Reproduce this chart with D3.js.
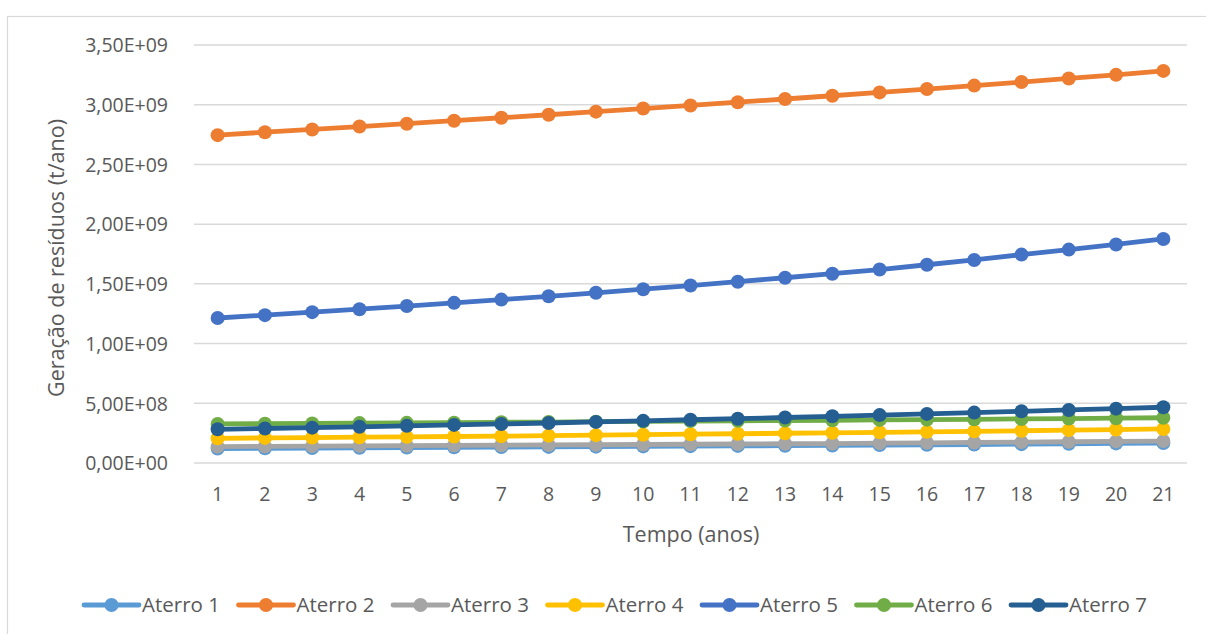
<!DOCTYPE html>
<html>
<head>
<meta charset="utf-8">
<script src="https://cdn.jsdelivr.net/npm/d3@7"></script>
<style>
  body { margin: 0; background: #fff; }
  text { font-family: "Open Sans", sans-serif; fill: #595959; }
</style>
</head>
<body>
<div id="chart"></div>
<script>
// anos no eixo x
const anos = d3.range(1, 22);
const yTicks = [0, 0.5e9, 1e9, 1.5e9, 2e9, 2.5e9, 3e9, 3.5e9];

// geração de resíduos (E+09 t/ano)
const aterro1 = [0.121,0.123,0.125,0.127,0.129,0.131,0.133,0.135,0.137,0.139,0.141,0.143,0.145,0.147,0.150,0.152,0.155,0.158,0.161,0.164,0.167];
const aterro2 = [2.745,2.770,2.793,2.817,2.841,2.866,2.891,2.916,2.942,2.968,2.994,3.021,3.048,3.075,3.103,3.131,3.160,3.190,3.220,3.250,3.283];
const aterro3 = [0.137,0.139,0.141,0.143,0.145,0.147,0.149,0.151,0.153,0.155,0.157,0.159,0.161,0.163,0.166,0.169,0.172,0.175,0.178,0.181,0.184];
const aterro4 = [0.207,0.210,0.213,0.216,0.219,0.222,0.225,0.229,0.233,0.237,0.241,0.245,0.249,0.253,0.257,0.261,0.265,0.270,0.275,0.280,0.285];
const aterro5 = [1.214,1.238,1.263,1.288,1.314,1.341,1.368,1.396,1.425,1.455,1.486,1.518,1.551,1.585,1.620,1.660,1.700,1.745,1.787,1.830,1.876];
const aterro6 = [0.327,0.329,0.331,0.334,0.336,0.338,0.341,0.343,0.346,0.348,0.351,0.353,0.356,0.358,0.361,0.363,0.366,0.369,0.372,0.375,0.379];
const aterro7 = [0.282,0.289,0.296,0.303,0.311,0.319,0.327,0.335,0.344,0.353,0.362,0.371,0.381,0.391,0.401,0.411,0.422,0.433,0.444,0.455,0.467];

const nomes = ["Aterro 1","Aterro 2","Aterro 3","Aterro 4","Aterro 5","Aterro 6","Aterro 7"];
const cores = ["#5B9BD5","#ED7D31","#A5A5A5","#FFC000","#4472C4","#70AD47","#255E91"];
const valores = [aterro1, aterro2, aterro3, aterro4, aterro5, aterro6, aterro7];

const W = 1206, H = 634;
const plot = {left: 194, right: 1187, top: 45, bottom: 463};

const svg = d3.select("#chart").append("svg")
    .attr("width", W)
    .attr("height", H);

// borda do gráfico
svg.append("rect")
    .attr("x", 7.5).attr("y", 16.5)
    .attr("width", 1220).attr("height", 640)
    .attr("fill", "none")
    .attr("stroke", "#D9D9D9")
    .attr("stroke-width", 1.2);

const x = d3.scaleBand().domain(anos).range([plot.left, plot.right]);
const y = d3.scaleLinear().domain([0, 3.5e9]).range([plot.bottom, plot.top]);
const cx = function(d) { return x(d) + x.bandwidth() / 2; };

const fmt = function(v) {
  const e = v === 0 ? 0 : Math.floor(Math.log10(v));
  const m = v / Math.pow(10, e);
  return m.toFixed(2).replace(".", ",") + "E+" + String(e).padStart(2, "0");
};

// grade
svg.append("g").selectAll("line")
  .data(yTicks)
  .enter().append("line")
    .attr("x1", plot.left).attr("x2", plot.right)
    .attr("y1", function(d) { return y(d); })
    .attr("y2", function(d) { return y(d); })
    .attr("stroke", "#D9D9D9")
    .attr("stroke-width", 1.5);

// eixo y
const yAxis = svg.append("g")
    .attr("transform", "translate(" + (plot.left - 23) + ",0)")
    .call(d3.axisLeft(y).tickValues(yTicks).tickFormat(fmt).tickSize(0));
yAxis.select(".domain").remove();
yAxis.selectAll("text")
    .attr("font-size", "19.5px")
    .attr("font-family", "Open Sans, sans-serif")
    .attr("fill", "#595959")
    .attr("dy", "0.35em");

// eixo x
const xAxis = svg.append("g")
    .attr("transform", "translate(0," + (plot.bottom + 21) + ")")
    .call(d3.axisBottom(x).tickSize(0));
xAxis.select(".domain").remove();
xAxis.selectAll("text")
    .attr("font-size", "19.5px")
    .attr("font-family", "Open Sans, sans-serif")
    .attr("fill", "#595959")
    .attr("dy", "0.71em");

// títulos dos eixos
svg.append("text")
    .attr("x", 691)
    .attr("y", 542)
    .attr("text-anchor", "middle")
    .attr("font-size", "21.5px")
    .text("Tempo (anos)");

svg.append("text")
    .attr("transform", "translate(64,258) rotate(-90)")
    .attr("text-anchor", "middle")
    .attr("font-size", "21.5px")
    .text("Geração de resíduos (t/ano)");

// séries
const linha = d3.line()
    .x(function(d, i) { return cx(anos[i]); })
    .y(function(d) { return y(d * 1e9); });

valores.forEach(function(serie, k) {
  const g = svg.append("g");
  g.append("path")
    .datum(serie)
    .attr("fill", "none")
    .attr("stroke", cores[k])
    .attr("stroke-width", 4.8)
    .attr("stroke-linejoin", "round")
    .attr("d", linha);
  g.selectAll("circle")
    .data(serie)
    .enter().append("circle")
      .attr("cx", function(d, i) { return cx(anos[i]); })
      .attr("cy", function(d) { return y(d * 1e9); })
      .attr("r", 7)
      .attr("fill", cores[k]);
});

// legenda
const legend = svg.append("g")
  .selectAll("g")
  .data(nomes)
  .enter().append("g")
    .attr("transform", function(d, i) { return "translate(" + (84 + i * 154.5) + ",605)"; });

legend.append("line")
    .attr("x1", 0).attr("x2", 55)
    .attr("stroke", function(d, i) { return cores[i]; })
    .attr("stroke-width", 4.8)
    .attr("stroke-linecap", "round");
legend.append("circle")
    .attr("cx", 27.5).attr("r", 7)
    .attr("fill", function(d, i) { return cores[i]; });
legend.append("text")
    .attr("x", 58)
    .attr("dy", "0.35em")
    .attr("font-size", "20.5px")
    .text(function(d) { return d; });
</script>
</body>
</html>
